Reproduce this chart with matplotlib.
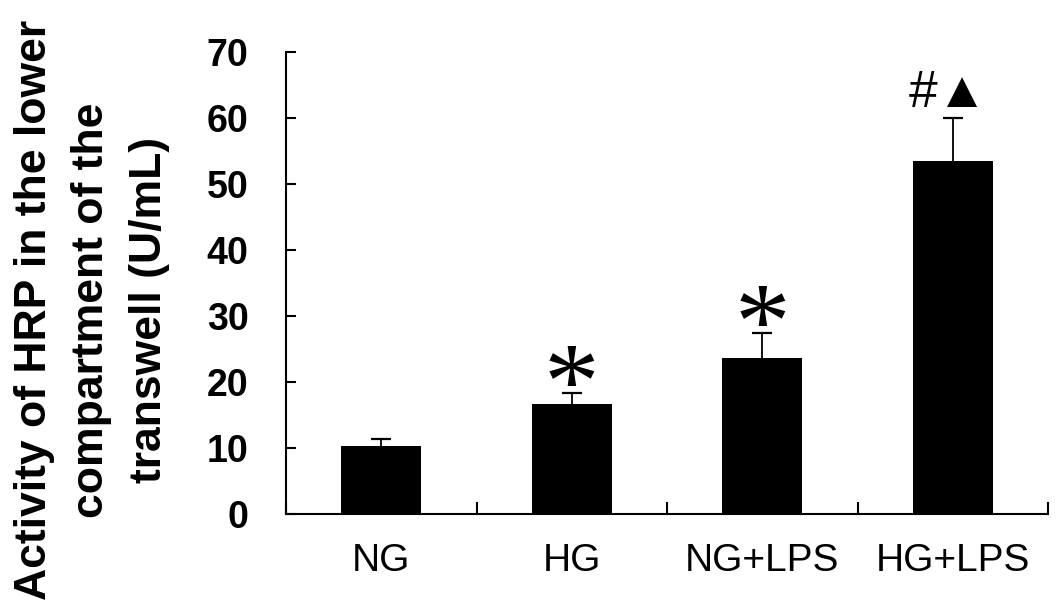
import matplotlib
matplotlib.use('Agg')
import matplotlib.pyplot as plt
import numpy as np
from matplotlib.textpath import TextPath
from matplotlib.font_manager import FontProperties

plt.rcParams['font.family'] = ['Liberation Sans', 'DejaVu Sans']

groups = ['NG', 'HG', 'NG+LPS', 'HG+LPS']
means = [10.3, 16.7, 23.6, 53.5]
sd = [1.1, 1.6, 3.8, 6.5]
marks = ['', '*', '*', '#▲']

W, H = 1063, 615
fig = plt.figure(figsize=(W / 100, H / 100), dpi=100)
ax = fig.add_axes([286 / W, 1 - 514 / H, (1048 - 286) / W, (514 - 52) / H])

x = np.arange(len(groups))
ax.bar(x, means, width=0.42, color='black', zorder=2)
eb = ax.errorbar(x, means, yerr=[np.zeros(len(sd)), sd], fmt='none', ecolor='black',
                 elinewidth=1.3, capsize=7.5, capthick=1.6, zorder=3)
eb.lines[1][0].set_visible(False)  # only the upper cap

ax.set_xlim(-0.5, len(groups) - 0.5)
ax.set_ylim(0, 70)
ax.set_yticks(np.arange(0, 71, 10))

for s in ['top', 'right']:
    ax.spines[s].set_visible(False)
for s in ['left', 'bottom']:
    ax.spines[s].set_linewidth(1.5)

# labels under the bars, little ticks between the groups
ax.set_xticks(x)
ax.set_xticklabels(groups, fontsize=28)
ax.set_xticks(np.arange(-0.5, len(groups)), minor=True)
ax.tick_params(axis='x', which='major', length=0, pad=21)
ax.tick_params(axis='x', which='minor', direction='in', length=9, width=1.5)
ax.tick_params(axis='y', direction='in', length=7, width=1.5, pad=27, labelsize=27)
for t in ax.get_yticklabels():
    t.set_fontweight('bold')

# significance marks above the error bars
star_fp = FontProperties(family='Liberation Serif')
hash_fp = FontProperties(family=['Liberation Sans', 'DejaVu Sans'])
for i, m in enumerate(marks):
    if not m:
        continue
    top = means[i] + sd[i]
    if m == '*':
        size = 80
        y0 = TextPath((0, 0), m, size=size, prop=star_fp).get_extents().y0
        ax.annotate(m, xy=(i, top), xytext=(0, 5 - y0), textcoords='offset points',
                    ha='center', va='baseline', fontproperties=star_fp, fontsize=size)
    else:
        size = 37
        y0 = TextPath((0, 0), '#', size=size, prop=FontProperties(family='Liberation Sans')).get_extents().y0
        ax.annotate(m, xy=(i, top), xytext=(-3, 8 - y0), textcoords='offset points',
                    ha='center', va='baseline', fontproperties=hash_fp, fontsize=size)

fig.text(92 / W, 1 - 310 / H,
         'Activity of HRP in the lower\ncompartment of the\ntranswell (U/mL)',
         rotation=90, ha='center', va='center', multialignment='center',
         fontsize=32, fontweight='bold', linespacing=1.52)

fig.savefig('out.png', dpi=100)
